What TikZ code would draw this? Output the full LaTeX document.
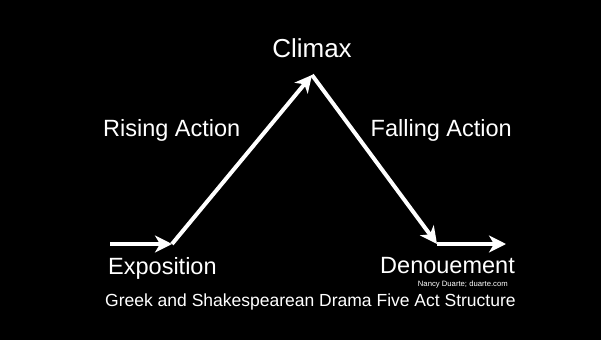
\documentclass[tikz,border=0pt]{standalone}
\usepackage{fontspec}
\setmainfont{Liberation Sans}
\usetikzlibrary{arrows.meta}
\begin{document}
\begin{tikzpicture}[x=1pt,y=-1pt,
  lbl/.style={text=white,inner sep=0pt,font=\fontsize{23.5}{28}\selectfont},
  arr/.style={draw=white,line width=4pt,-{Stealth[length=17pt,width=17pt,inset=5pt]}}]
\fill[black] (0,0) rectangle (601,340);
\useasboundingbox (0,0) rectangle (601,340);
\coordinate (p0) at (110,244);
\coordinate (p1) at (172,244);
\coordinate (p2) at (312,75);
\coordinate (p3) at (437,244);
\coordinate (p4) at (506,244);
\draw[arr] (p0) -- (p1);
\draw[arr] (p1) -- (p2);
\draw[arr] (p2) -- (p3);
\draw[arr] (p3) -- (p4);
\node[lbl,anchor=base,font=\fontsize{26}{30}\selectfont] (climax) at (312,57) {Climax};
\node[lbl,anchor=base west] (rising) at (103,136) {Rising Action};
\node[lbl,anchor=base east] (falling) at (512,136) {Falling Action};
\node[lbl,anchor=base west] (expo) at (108,274) {Exposition};
\node[lbl,anchor=base east] (denoue) at (515,273) {Denouement};
\node[lbl,anchor=base east,font=\fontsize{7.7}{9}\selectfont] (credit) at (508,286) {Nancy Duarte; duarte.com};
\node[lbl,anchor=base west,font=\fontsize{17.5}{21}\selectfont] (title) at (105,306) {Greek and Shakespearean Drama Five Act Structure};
\end{tikzpicture}
\end{document}
